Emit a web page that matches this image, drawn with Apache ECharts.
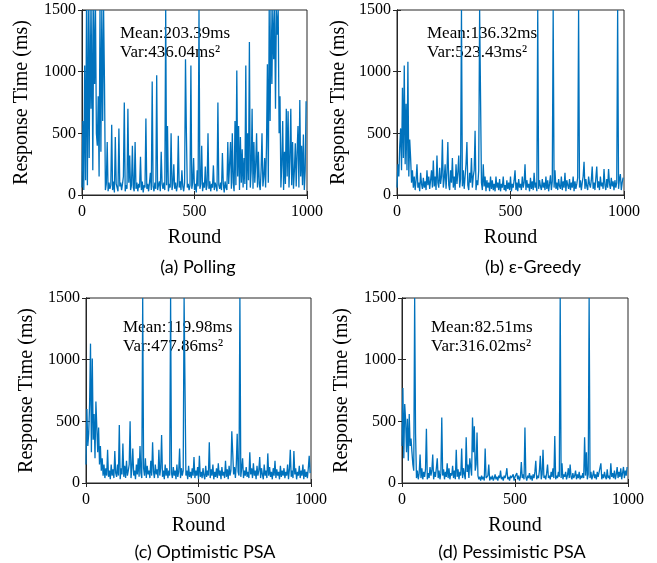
<!DOCTYPE html>
<html><head><meta charset="utf-8">
<script src="https://cdn.jsdelivr.net/npm/echarts@6/dist/echarts.min.js"></script>
<style>html,body{margin:0;padding:0;background:#fff}#c{width:657px;height:563px}</style>
</head><body><div id="c"></div>
<script>
const roundStep = 4;
const xTicks = [0, 500, 1000];
const yTicks = [0, 500, 1000, 1500];
const panelTitles = ['(a) Polling', '(b) ε-Greedy', '(c) Optimistic PSA', '(d) Pessimistic PSA'];
const meanTexts = ['Mean:203.39ms', 'Mean:136.32ms', 'Mean:119.98ms', 'Mean:82.51ms'];
const varTexts = ['Var:436.04ms²', 'Var:523.43ms²', 'Var:477.86ms²', 'Var:316.02ms²'];

const pollingValues = [
60,600,40,1050,120,1500,80,1500,300,1500,
700,1500,200,1500,900,1500,500,400,800,150,
1500,350,1500,600,1500,900,40,90,430,30,
100,50,80,570,40,110,20,470,90,60,
30,540,70,100,40,90,150,750,30,80,
50,700,100,320,40,80,400,60,30,430,
50,100,30,90,60,310,40,110,20,80,
60,620,50,90,30,100,180,40,920,70,
30,100,50,970,40,80,110,30,350,90,
50,100,40,1500,80,560,30,90,60,500,
40,90,250,50,100,30,80,480,60,110,
40,200,70,30,100,1100,500,60,90,40,
80,1050,50,100,300,40,90,20,200,70,
1500,50,90,400,30,100,60,230,40,80,
500,50,110,30,90,60,240,40,100,70,
30,750,80,50,100,40,340,90,20,110,
60,40,430,90,250,430,50,500,100,30,
600,80,1010,150,560,40,470,100,370,60,
300,90,1050,40,500,120,1240,60,200,700,
50,430,100,250,500,60,350,90,40,200,
500,70,150,300,60,400,1060,100,1500,600,
1500,900,1500,1100,1500,700,1500,1300,1500,500,
800,60,250,600,40,350,90,700,150,680,
60,300,700,80,430,50,200,420,70,350,
560,60,770,150,400,80,490,40,200,760];

const greedyValues = [
60,250,150,400,540,200,870,300,1050,250,
740,200,1080,150,450,300,100,200,60,150,
40,120,250,60,100,30,180,90,50,140,
60,110,40,200,80,150,50,120,200,60,
280,70,150,40,320,100,60,220,90,150,
450,60,130,250,50,180,430,80,40,200,
100,300,60,150,40,250,90,180,320,60,
130,1500,70,200,50,150,250,430,80,40,
180,100,300,60,150,200,520,40,120,80,
200,1500,1500,100,40,250,70,150,30,120,
60,100,30,150,50,120,40,90,30,150,
60,100,40,130,30,90,60,150,40,80,
30,120,50,100,40,150,30,90,60,120,
200,40,100,30,130,60,90,40,150,60,
100,250,40,120,60,90,30,140,50,110,
40,180,60,100,30,1500,50,120,70,40,
130,60,100,40,150,50,120,30,90,160,
40,110,1500,60,200,50,100,40,130,70,
50,150,40,110,60,180,30,120,80,50,
130,40,100,60,150,30,110,50,90,140,
1500,60,120,40,100,150,270,50,130,70,
40,150,90,60,120,230,50,100,40,140,
230,60,110,40,150,70,100,50,210,80,
40,130,60,210,90,50,140,70,110,40,
120,60,100,1500,50,130,170,40,100,140];

const optimisticValues = [
150,600,300,400,640,1130,250,1010,350,560,
200,660,670,250,450,150,300,100,200,60,
150,40,120,60,270,50,100,30,150,60,
110,40,260,80,50,150,60,470,30,120,
70,320,50,140,40,180,60,100,150,500,
40,120,280,60,100,30,150,70,200,50,
300,80,40,1500,120,60,200,40,140,70,
100,40,180,60,330,90,40,150,70,110,
40,270,60,120,390,50,100,30,150,60,
120,40,100,60,1500,80,40,130,60,100,
30,150,50,90,280,40,120,60,100,1500,
1500,60,100,30,140,50,90,40,120,60,
210,40,100,60,130,30,220,50,90,40,
120,60,30,140,50,100,60,330,40,110,
60,150,30,90,50,120,40,160,60,100,
30,130,60,90,40,180,50,110,30,140,
60,100,420,250,70,130,40,150,400,90,
60,1500,50,120,200,40,100,60,130,50,
90,40,250,70,120,40,160,60,100,30,
140,60,100,210,40,120,70,30,150,60,
100,40,240,60,130,50,90,30,120,60,
180,40,110,60,90,30,140,50,100,60,
120,40,90,60,150,30,110,270,50,100,
40,260,70,120,30,90,60,140,40,100,
60,150,30,110,50,90,40,120,220,80];

const pessimisticValues = [
300,770,200,640,510,250,520,180,560,300,
360,250,150,100,1500,400,40,100,30,80,
230,40,120,30,90,50,110,440,30,80,
40,130,60,100,230,30,90,50,120,200,
40,100,30,80,530,60,110,30,90,50,
160,40,120,30,80,60,140,40,100,30,
270,50,110,30,90,60,280,40,120,70,
30,370,90,150,40,200,200,60,530,250,
460,100,150,410,60,30,50,20,60,30,
50,20,280,40,30,60,150,20,50,30,
60,20,40,70,30,50,20,60,40,100,
30,50,20,60,40,70,120,30,50,20,
60,40,30,70,20,50,40,80,30,60,
20,50,170,40,70,30,450,50,20,60,
40,80,30,60,20,70,40,90,180,30,
60,40,100,220,30,70,270,40,60,30,
80,150,40,60,30,90,50,120,40,380,
30,60,40,90,50,1500,40,160,30,70,
50,90,30,60,120,40,150,50,30,80,
40,60,100,30,70,40,90,30,60,40,
80,40,370,60,250,30,70,1500,40,90,
30,60,100,40,70,30,90,50,40,60,
160,30,70,40,90,50,30,110,40,60,
30,160,50,80,40,100,30,70,130,40,
90,50,120,30,80,130,40,100,60,130];

const allValues = [pollingValues, greedyValues, optimisticValues, pessimisticValues];

const grids = [
  {left: 82, top: 10, width: 225, height: 185},
  {left: 397, top: 10, width: 227, height: 185},
  {left: 86, top: 298, width: 225, height: 185},
  {left: 402, top: 298, width: 226, height: 185}
];
const nameGaps = [50, 48, 49, 50];
const textPos = [[119, 34], [426, 34], [122, 328], [430, 328]];
const captionPos = [[198, 267], [533, 267], [205, 552], [512, 552]];

const serif = '"Liberation Serif","Times New Roman",serif';
const axisColor = '#262626';

const option = {
  animation: false,
  grid: grids.map(g => Object.assign({show: true, borderColor: axisColor, borderWidth: 1, backgroundColor: 'transparent'}, g)),
  xAxis: [], yAxis: [], series: [], graphic: []
};

grids.forEach((g, k) => {
  option.xAxis.push({
    type: 'value', gridIndex: k, min: xTicks[0], max: xTicks[xTicks.length - 1], interval: 500,
    name: 'Round', nameLocation: 'middle', nameGap: 33,
    nameTextStyle: {fontFamily: serif, fontSize: 20, color: '#000'},
    axisLine: {show: true, lineStyle: {color: axisColor}},
    axisTick: {show: true, inside: true, length: 4, lineStyle: {color: axisColor}},
    axisLabel: {fontFamily: serif, fontSize: 16, color: '#000', margin: 9, formatter: v => String(v)},
    splitLine: {show: false}
  });
  option.xAxis.push({
    type: 'value', gridIndex: k, position: 'top', min: 0, max: 1000, interval: 500,
    axisLine: {show: true, lineStyle: {color: axisColor}},
    axisTick: {show: true, inside: true, length: 4, lineStyle: {color: axisColor}},
    axisLabel: {show: false}, splitLine: {show: false}
  });
  option.yAxis.push({
    type: 'value', gridIndex: k, min: yTicks[0], max: yTicks[yTicks.length - 1], interval: 500,
    name: 'Response Time (ms)', nameLocation: 'middle', nameGap: nameGaps[k],
    nameTextStyle: {fontFamily: serif, fontSize: 20, color: '#000'},
    axisLine: {show: true, lineStyle: {color: axisColor}},
    axisTick: {show: true, inside: true, length: 4, lineStyle: {color: axisColor}},
    axisLabel: {fontFamily: serif, fontSize: 16, color: '#000', margin: 6, formatter: v => String(v)},
    splitLine: {show: false}
  });
  option.yAxis.push({
    type: 'value', gridIndex: k, position: 'right', min: 0, max: 1500, interval: 500,
    axisLine: {show: true, lineStyle: {color: axisColor}},
    axisTick: {show: true, inside: true, length: 4, lineStyle: {color: axisColor}},
    axisLabel: {show: false}, splitLine: {show: false}
  });
  option.series.push({
    type: 'line', xAxisIndex: 2 * k, yAxisIndex: 2 * k,
    data: allValues[k].map((v, i) => [i * roundStep, v]),
    showSymbol: false, symbol: 'none', clip: true, sampling: null,
    lineStyle: {color: '#0072BD', width: 1.3}, z: 2
  });
  const [tx, ty] = textPos[k];
  option.graphic.push({
    type: 'group', z: 100,
    children: [
      {type: 'text', x: tx, y: ty, style: {text: meanTexts[k], font: '17px ' + serif, fill: '#000', verticalAlign: 'middle', backgroundColor: 'rgba(255,255,255,0.82)', padding: [1, 1]}},
      {type: 'text', x: tx, y: ty + 19, style: {text: varTexts[k], font: '17px ' + serif, fill: '#000', verticalAlign: 'middle', backgroundColor: 'rgba(255,255,255,0.82)', padding: [1, 1]}}
    ]
  });
  const [cx, cy] = captionPos[k];
  option.graphic.push({
    type: 'text', x: cx, y: cy, z: 100,
    style: {text: panelTitles[k], font: '18px Lato, "Noto Sans", sans-serif', fill: '#000', align: 'center', verticalAlign: 'middle'}
  });
});

const chart = echarts.init(document.getElementById('c'), null, {renderer: 'canvas'});
chart.setOption(option);
</script></body></html>
